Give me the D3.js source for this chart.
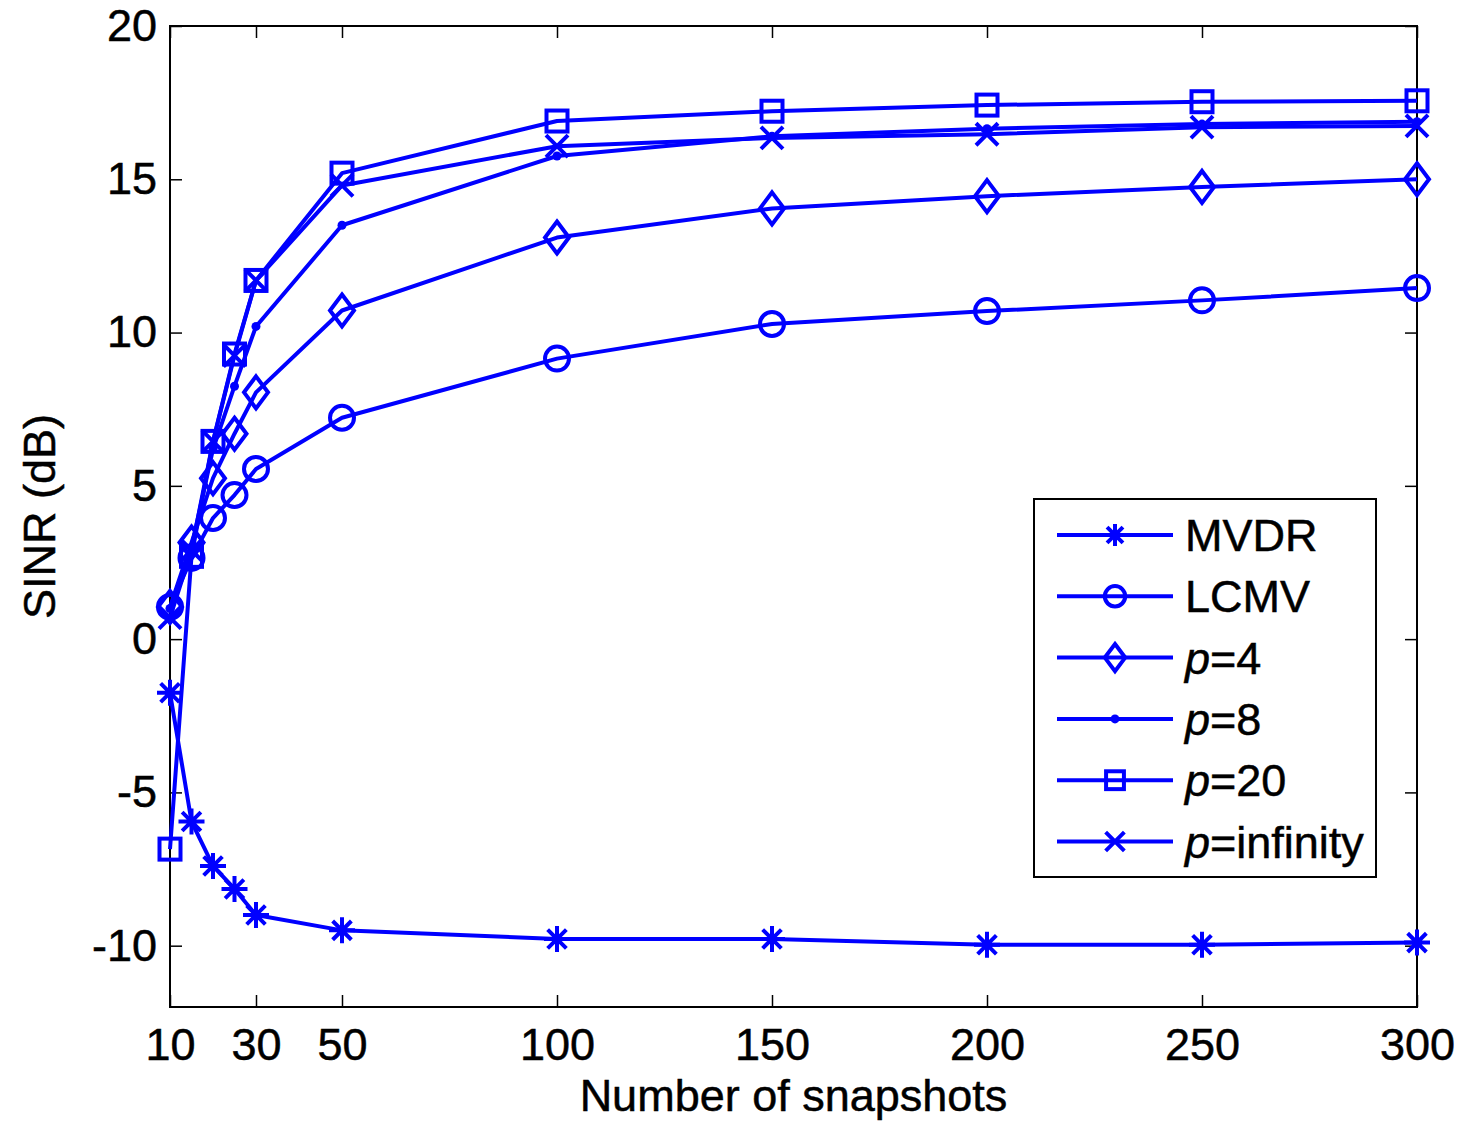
<!DOCTYPE html>
<html>
<head>
<meta charset="utf-8">
<script src="https://cdn.jsdelivr.net/npm/d3@7"></script>
<style>
  body { margin: 0; background: #fff; }
  text { font-family: "Liberation Sans", Arial, Helvetica, sans-serif; fill: #000; stroke: #000; stroke-width: 0.5px; }
</style>
</head>
<body>
<div id="chart"></div>
<script>
// snapshots on x axis
var snapshots = [10, 15, 20, 25, 30, 50, 100, 150, 200, 250, 300];

var mvdr = [-1.75, -5.95, -7.4, -8.15, -9.0, -9.5, -9.78, -9.78, -9.97, -9.97, -9.9];
var lcmv = [1.05, 2.65, 3.95, 4.7, 5.55, 7.22, 9.15, 10.28, 10.7, 11.05, 11.45];
var p4   = [1.05, 3.15, 5.25, 6.7, 8.05, 10.72, 13.1, 14.05, 14.45, 14.75, 15.0];
var p8   = [1.0, 3.0, 6.2, 8.25, 10.2, 13.5, 15.76, 16.4, 16.65, 16.8, 16.88];
var p20  = [-6.85, 2.7, 6.45, 9.3, 11.7, 15.2, 16.9, 17.22, 17.42, 17.53, 17.56];
var pinf = [0.7, 2.9, 6.45, 9.25, 11.7, 14.8, 16.08, 16.35, 16.47, 16.7, 16.74];

var xTicks = [10, 30, 50, 100, 150, 200, 250, 300];
var yTicks = [-10, -5, 0, 5, 10, 15, 20];

var seriesNames = ["MVDR", "LCMV", "p=4", "p=8", "p=20", "p=infinity"];
var seriesValues = [mvdr, lcmv, p4, p8, p20, pinf];
var seriesMarkers = ["star", "circle", "diamond", "dot", "square", "cross"];

var width = 1463,
    height = 1123;
var margin = {left: 170, top: 26, right: 1417, bottom: 1007};
var blue = "#0000ff";
var lw = 4;
var fs = 45;

var svg = d3.select("#chart").append("svg")
    .attr("width", width)
    .attr("height", height);

var x = d3.scaleLinear().domain([10, 300]).range([margin.left, margin.right]);
var y = d3.scaleLinear().domain([-12, 20]).range([margin.bottom, margin.top]);

// axes, matlab style: ticks inside, box all round
var tickLen = 12;
var fmt = function(d) { return String(d); };   // plain hyphen minus like matlab

svg.append("g")
    .attr("transform", "translate(0," + margin.bottom + ")")
    .call(d3.axisBottom(x).tickValues(xTicks).tickFormat(fmt).tickSizeInner(-tickLen).tickSizeOuter(0).tickPadding(21))
    .call(function(g) {
      g.select(".domain").remove();
      g.selectAll("text").attr("font-size", fs).attr("dy", "0.71em")
        .style("font-family", "'Liberation Sans', Arial, sans-serif");
    });
svg.append("g")
    .attr("transform", "translate(0," + margin.top + ")")
    .call(d3.axisTop(x).tickValues(xTicks).tickSizeInner(-tickLen).tickSizeOuter(0).tickFormat(""))
    .call(function(g) { g.select(".domain").remove(); });
svg.append("g")
    .attr("transform", "translate(" + margin.left + ",0)")
    .call(d3.axisLeft(y).tickValues(yTicks).tickFormat(fmt).tickSizeInner(-tickLen).tickSizeOuter(0).tickPadding(13))
    .call(function(g) {
      g.select(".domain").remove();
      g.selectAll("text").attr("font-size", fs)
        .style("font-family", "'Liberation Sans', Arial, sans-serif");
    });
svg.append("g")
    .attr("transform", "translate(" + margin.right + ",0)")
    .call(d3.axisRight(y).tickValues(yTicks).tickSizeInner(-tickLen).tickSizeOuter(0).tickFormat(""))
    .call(function(g) { g.select(".domain").remove(); });

svg.selectAll(".tick line").attr("stroke", "#000").attr("stroke-width", 1.5);

svg.append("rect")
    .attr("x", margin.left)
    .attr("y", margin.top)
    .attr("width", margin.right - margin.left)
    .attr("height", margin.bottom - margin.top)
    .attr("fill", "none")
    .attr("stroke", "#000")
    .attr("stroke-width", 2);

// axis labels
svg.append("text")
    .attr("x", (margin.left + margin.right) / 2)
    .attr("y", 1111)
    .attr("text-anchor", "middle")
    .attr("font-size", fs)
    .text("Number of snapshots");

svg.append("text")
    .attr("transform", "translate(55," + (margin.top + margin.bottom) / 2 + ") rotate(-90)")
    .attr("text-anchor", "middle")
    .attr("font-size", fs)
    .text("SINR (dB)");

// marker drawing
function drawMarker(g, type, cx, cy, s) {
  var k = s || 1;
  if (type == "star") {
    var r = 13 * k, d = r * 0.72;
    g.append("path")
      .attr("d", "M" + (cx - r) + "," + cy + "H" + (cx + r) +
                 "M" + cx + "," + (cy - r) + "V" + (cy + r) +
                 "M" + (cx - d) + "," + (cy - d) + "L" + (cx + d) + "," + (cy + d) +
                 "M" + (cx - d) + "," + (cy + d) + "L" + (cx + d) + "," + (cy - d))
      .attr("stroke", blue).attr("stroke-width", lw).attr("fill", "none");
  } else if (type == "circle") {
    g.append("circle").attr("cx", cx).attr("cy", cy).attr("r", 12 * k)
      .attr("stroke", blue).attr("stroke-width", lw).attr("fill", "none");
  } else if (type == "diamond") {
    var w = 12 * k, h = 16 * k;
    g.append("path")
      .attr("d", "M" + cx + "," + (cy - h) + "L" + (cx + w) + "," + cy + "L" + cx + "," + (cy + h) + "L" + (cx - w) + "," + cy + "Z")
      .attr("stroke", blue).attr("stroke-width", lw).attr("fill", "none");
  } else if (type == "dot") {
    g.append("circle").attr("cx", cx).attr("cy", cy).attr("r", 4.5)
      .attr("fill", blue);
  } else if (type == "square") {
    var a = 10.5 * k;
    g.append("rect").attr("x", cx - a).attr("y", cy - a).attr("width", 2 * a).attr("height", 2 * a)
      .attr("stroke", blue).attr("stroke-width", lw).attr("fill", "none");
  } else if (type == "cross") {
    var c = 11 * k;
    g.append("path")
      .attr("d", "M" + (cx - c) + "," + (cy - c) + "L" + (cx + c) + "," + (cy + c) +
                 "M" + (cx - c) + "," + (cy + c) + "L" + (cx + c) + "," + (cy - c))
      .attr("stroke", blue).attr("stroke-width", lw).attr("fill", "none");
  }
}

var line = d3.line()
    .x(function(d) { return x(d.x); })
    .y(function(d) { return y(d.y); });

var plot = svg.append("g").attr("class", "series");

seriesValues.forEach(function(vals, i) {
  var pts = vals.map(function(v, j) { return {x: snapshots[j], y: v}; });
  var g = plot.append("g");
  g.append("path")
    .datum(pts)
    .attr("d", line)
    .attr("fill", "none")
    .attr("stroke", blue)
    .attr("stroke-width", lw)
    .attr("stroke-linejoin", "round");
  pts.forEach(function(p) {
    drawMarker(g, seriesMarkers[i], x(p.x), y(p.y));
  });
});

// legend
var legend = svg.append("g").attr("class", "legend");
legend.append("rect")
    .attr("x", 1034).attr("y", 499)
    .attr("width", 342).attr("height", 378)
    .attr("fill", "#fff")
    .attr("stroke", "#000")
    .attr("stroke-width", 2);

seriesNames.forEach(function(name, i) {
  var ly = 535 + i * 61.3;
  legend.append("line")
    .attr("x1", 1057).attr("x2", 1173)
    .attr("y1", ly).attr("y2", ly)
    .attr("stroke", blue).attr("stroke-width", lw);
  drawMarker(legend, seriesMarkers[i], 1115, ly, 0.85);
  var t = legend.append("text")
    .attr("x", 1185)
    .attr("y", ly + 16)
    .attr("font-size", fs);
  if (name.indexOf("p=") == 0) {
    t.append("tspan").attr("font-style", "italic").text("p");
    t.append("tspan").text(name.slice(1));
  } else {
    t.text(name);
  }
});
</script>
</body>
</html>
